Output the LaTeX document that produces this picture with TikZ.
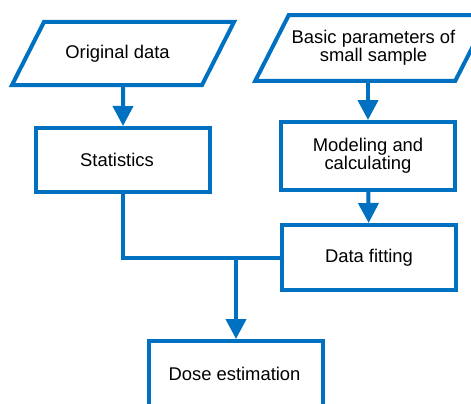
\documentclass[tikz,border=0pt]{standalone}
\usepackage{fontspec}
\setmainfont{Liberation Sans}
\usetikzlibrary{shapes.geometric,arrows.meta}

\definecolor{flowblue}{RGB}{0,112,192}

\tikzstyle{ioput}=[trapezium,trapezium left angle=63,trapezium right angle=117,trapezium stretches body,draw=flowblue,line width=4pt,minimum height=63pt,minimum width=222pt,inner xsep=0pt,align=center,font=\fontsize{18.4}{16.5}\selectfont]
\tikzstyle{process}=[rectangle,draw=flowblue,line width=4pt,minimum width=174pt,inner sep=0pt,align=center,font=\fontsize{18.4}{16.5}\selectfont]
\tikzstyle{flow}=[draw=flowblue,line width=4pt,-{Triangle[length=20pt,width=20pt]}]

\begin{document}
\begin{tikzpicture}[x=1pt,y=-1pt]
			\path[use as bounding box,clip] (0,0) rectangle (471,404);
			%The input blocks
			\foreach \pos/\name/\ys/\txt in {{(123,53.5)/orig/22.8/Original data\hspace*{11pt}},
											 {(372,48)/basic/15.1/\hspace*{3pt}Basic parameters of\\\hspace*{3pt}small sample}}
			\node[ioput,inner ysep=\ys pt] (\name) at \pos {\txt};
			%The process blocks
			\foreach \pos/\name/\h/\txt in {{(123,160)/stat/64/Statistics\hspace*{12pt}},
											{(368,156)/model/68/Modeling and\\calculating},
											{(369,257.5)/fit/65/Data fitting},
											{(236,374)/dose/66/Dose estimation\hspace*{3pt}}}
			\node[process,minimum height=\h pt] (\name) at \pos {\txt};
			%Connecting lines
			\coordinate (join) at (dose.north |- fit.west);
			\draw[flow] (orig) -- (stat);
			\draw[flow] (basic.south -| model) -- (model);
			\draw[flow] (model) -- (fit);
			\draw[draw=flowblue,line width=4pt] (stat.south) |- (fit.west);
			\draw[flow] (join) -- (dose);
		\end{tikzpicture}
\end{document}
